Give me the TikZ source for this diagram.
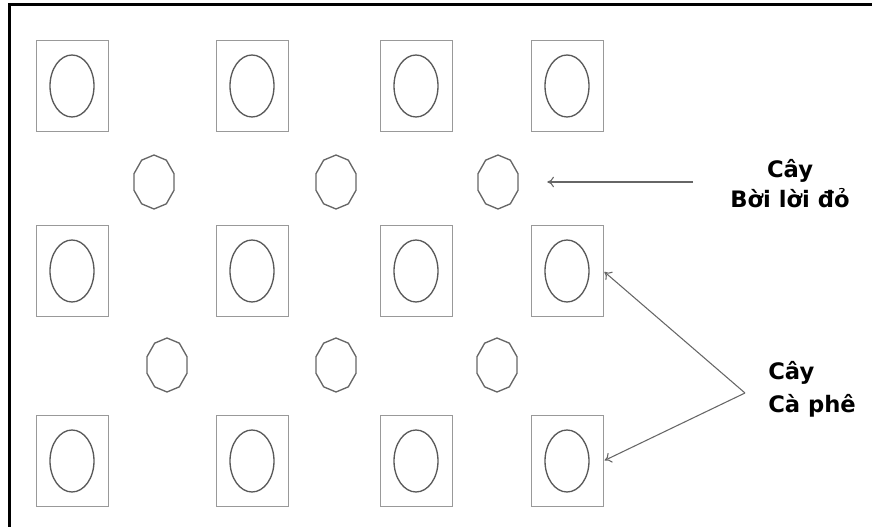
\documentclass[tikz,border=0pt]{standalone}
\usepackage{fontspec}
\setmainfont{DejaVu Sans}
\usetikzlibrary{arrows.meta}

\begin{document}
\begin{tikzpicture}[x=0.75pt,y=-0.75pt]
  \tikzstyle{plotbox}=[draw=black!40,line width=0.6pt,minimum width=54pt,minimum height=68pt,inner sep=0pt]
  \tikzstyle{bean}=[draw=black!65,line width=1pt]
  \tikzstyle{shrub}=[draw=black!60,line width=1pt]
  \tikzstyle{treename}=[font=\fontsize{17}{20}\selectfont\bfseries,inner sep=0pt]
  \tikzstyle{pointer}=[draw=black!60,line width=0.8pt,-{To[length=5pt,width=8pt]},shorten >=1pt]
  \useasboundingbox (0,0) rectangle (872,527);
  % frame, only top and left edge show
  \draw[line width=2.25pt] (872,5) -- (9.5,5) -- (9.5,527);
  % coffee plots
  \foreach \r/\py in {1/86,2/271,3/461}
    \foreach \c/\px in {1/72,2/252,3/416,4/567}
    {
      \node[plotbox] (cf-\r-\c) at (\px,\py) {};
      \draw[bean] (cf-\r-\c) ellipse [x radius=22, y radius=31];
    }
  % red-flower shrubs between them
  \foreach \name/\px/\py in {1/154/182,2/336/182,3/498/182,4/167/365,5/336/365,6/497/365}
  {
    \coordinate (bl-\name) at (\px,\py);
    \draw[shrub,shift={(bl-\name)}] plot[samples=11,domain=90:450] ({21*cos(\x)},{27*sin(\x)}) -- cycle;
  }
  % names
  \node[treename,anchor=base] (bl-top) at (790,178) {Cây};
  \node[treename,anchor=base] (bl-bot) at (790,208) {Bời lời đỏ};
  \node[treename,anchor=base west] (cf-top) at (768,380) {Cây};
  \node[treename,anchor=base west] (cf-bot) at (768,413) {Cà phê};
  \coordinate (bl-from) at (693,182);
  \coordinate (bl-to) at (546,182);
  \coordinate (cf-fork) at (745,393);
  \draw[pointer] (bl-from) -- (bl-to);
  \draw[pointer] (cf-fork) -- (cf-2-4.east);
  \draw[pointer] (cf-fork) -- (cf-3-4.east);
\end{tikzpicture}
\end{document}
